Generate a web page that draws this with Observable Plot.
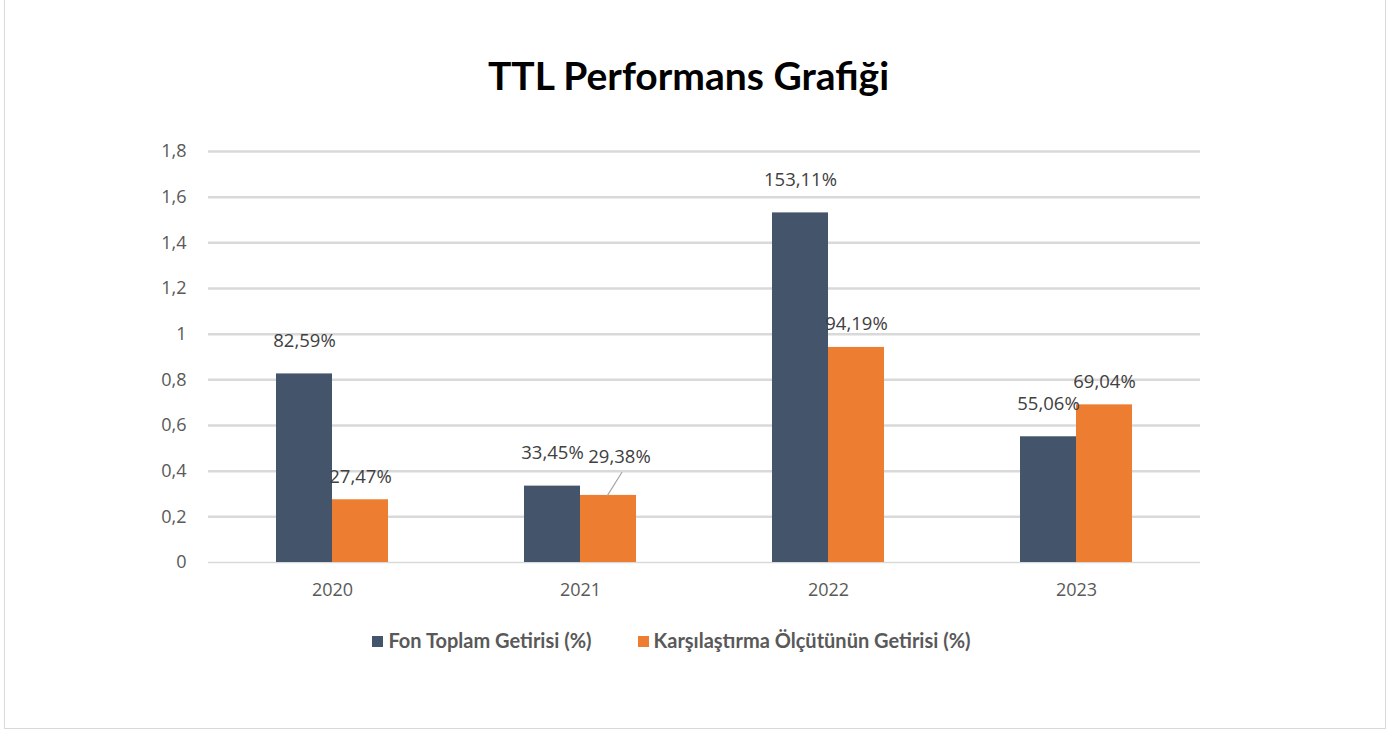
<!DOCTYPE html>
<html>
<head>
<meta charset="utf-8">
<script src="https://cdn.jsdelivr.net/npm/d3@7"></script>
<script src="https://cdn.jsdelivr.net/npm/@observablehq/plot@0.6"></script>
<style>
  html, body { margin: 0; padding: 0; background: #fff; }
  #wrap { position: relative; width: 1393px; height: 733px; overflow: hidden; background: #fff; }
  #frame { position: absolute; left: 4px; top: -2px; width: 1382px; height: 731px; border: 1.5px solid #d9d9d9; box-sizing: border-box; }
  #title { position: absolute; left: -8px; width: 1393px; top: 52px; text-align: center; font-family: Lato, "Open Sans", sans-serif; font-weight: 700; font-size: 39px; color: #000; }
  #chart { position: absolute; left: 0; top: 0; }
  #legend { position: absolute; left: -25px; width: 1393px; top: 628px; text-align: center; font-family: Lato, "Open Sans", sans-serif; font-weight: 700; font-size: 20px; color: #595959; white-space: nowrap; }
  #legend span.item { display: inline-block; margin: 0 23px; }
  #legend span.sw { display: inline-block; width: 11px; height: 11px; margin-right: 5px; vertical-align: 1px; }
</style>
</head>
<body>
<div id="wrap">
  <div id="frame"></div>
  <div id="title">TTL Performans Grafiği</div>
  <div id="chart"></div>
  <div id="legend"></div>
</div>
<script>
const years = ["2020", "2021", "2022", "2023"];
const seriesNames = ["Fon Toplam Getirisi (%)", "Karşılaştırma Ölçütünün Getirisi (%)"];
const fonValues = [0.8259, 0.3345, 1.5311, 0.5506];
const olcutValues = [0.2747, 0.2938, 0.9419, 0.6904];
const yTicks = [0, 0.2, 0.4, 0.6, 0.8, 1, 1.2, 1.4, 1.6, 1.8];
const colors = ["#44546A", "#ED7D31"];

const rows = [];
years.forEach((y, i) => {
  rows.push({year: y, series: seriesNames[0], value: fonValues[i]});
  rows.push({year: y, series: seriesNames[1], value: olcutValues[i]});
});

const fmtPct = v => (v * 100).toFixed(2).replace(".", ",") + "%";
const fmtTick = v => String(v).replace(".", ",");
const labelFont = "'Open Sans', sans-serif";
const lblSize = 18.5;

const chart = Plot.plot({
  width: 1393,
  height: 610,
  marginLeft: 206,
  marginRight: 192,
  marginTop: 151,
  marginBottom: 48,
  style: {fontFamily: labelFont, fontSize: "18px", color: "#595959", background: "transparent"},
  facet: {data: rows, x: "year"},
  fx: {domain: years, padding: 0, label: null, axis: "bottom", tickSize: 0, tickPadding: 21},
  x: {domain: seriesNames, axis: null, paddingInner: 0, paddingOuter: 1.2},
  y: {domain: [0, 1.8], axis: null},
  color: {domain: seriesNames, range: colors},
  marks: [
    Plot.ruleY(yTicks.filter(t => t > 0), {stroke: "#d9d9d9", strokeWidth: 2.5}),
    Plot.ruleY([0], {stroke: "#d9d9d9", strokeWidth: 1.5}),
    Plot.barY(rows, {x: "series", y: "value", fill: "series", inset: 0}),
    Plot.text(rows, {filter: d => d.series === seriesNames[0], x: "series", y: "value", text: d => fmtPct(d.value), dy: -33, fontSize: lblSize, fill: "#404040"}),
    Plot.text(rows, {filter: d => d.series === seriesNames[1] && d.year !== "2021", x: "series", y: "value", text: d => fmtPct(d.value), dy: -23, fontSize: lblSize, fill: "#404040"}),
    Plot.text(rows, {filter: d => d.series === seriesNames[1] && d.year === "2021", x: "series", y: "value", text: d => fmtPct(d.value), dy: -38, dx: 11, fontSize: lblSize, fill: "#404040"}),
    Plot.vector(rows, {filter: d => d.series === seriesNames[1] && d.year === "2021", x: "series", y: "value", dx: -1, length: 27, rotate: 32, anchor: "start", stroke: "#a6a6a6", strokeWidth: 1.2,
      shape: {draw(context, l) { context.moveTo(0, 0); context.lineTo(0, -l); }}})
  ]
});

// y-axis labels on an overlay sharing the same vertical scale
const yAxisPlot = Plot.plot({
  width: 206,
  height: 610,
  marginLeft: 186,
  marginRight: 0,
  marginTop: 151,
  marginBottom: 48,
  style: {fontFamily: labelFont, fontSize: "18px", color: "#595959", background: "transparent", overflow: "visible"},
  y: {domain: [0, 1.8]},
  marks: [
    Plot.axisY(yTicks, {anchor: "left", tickSize: 0, tickPadding: 0, tickFormat: fmtTick, label: null, fill: "#595959", fontSize: 18})
  ]
});

const holder = document.getElementById("chart");
holder.appendChild(chart);
yAxisPlot.style.position = "absolute";
yAxisPlot.style.left = "0px";
yAxisPlot.style.top = "0px";
holder.appendChild(yAxisPlot);

const legend = document.getElementById("legend");
seriesNames.forEach((s, i) => {
  const item = document.createElement("span");
  item.className = "item";
  const sw = document.createElement("span");
  sw.className = "sw";
  sw.style.background = colors[i];
  item.appendChild(sw);
  item.appendChild(document.createTextNode(s));
  legend.appendChild(item);
});
</script>
</body>
</html>
